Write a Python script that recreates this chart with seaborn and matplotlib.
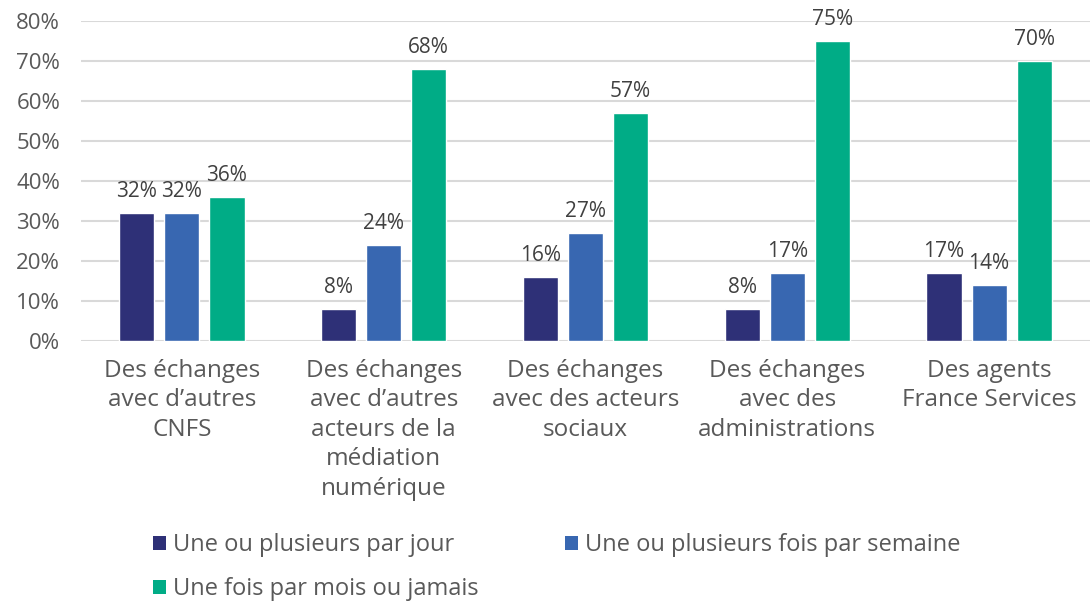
import matplotlib
matplotlib.use("Agg")
import matplotlib.pyplot as plt
import seaborn as sns
import pandas as pd
from matplotlib.patches import Patch

categories = [
    "Des échanges\navec d’autres\nCNFS",
    "Des échanges\navec d’autres\nacteurs de la\nmédiation\nnumérique",
    "Des échanges\navec des acteurs\nsociaux",
    "Des échanges\navec des\nadministrations",
    "Des agents\nFrance Services",
]
series = [
    "Une ou plusieurs par jour",
    "Une ou plusieurs fois par semaine",
    "Une fois par mois ou jamais",
]
daily = [32, 8, 16, 8, 17]
weekly = [32, 24, 27, 17, 14]
monthly = [36, 68, 57, 75, 70]
colors = ["#2E3077", "#3867B1", "#00AC86"]
yticks = [0, 10, 20, 30, 40, 50, 60, 70, 80]

rows = []
for name, vals in zip(series, [daily, weekly, monthly]):
    for cat, v in zip(categories, vals):
        rows.append({"cat": cat, "serie": name, "val": v})
df = pd.DataFrame(rows)

sns.set_style("white")
plt.rcParams["font.family"] = ["Open Sans", "DejaVu Sans"]
text_color = "#595959"

fig = plt.figure(figsize=(10.92, 6.06), dpi=100)
ax = fig.add_axes([81 / 1092, 1 - 341 / 606, (1090 - 81) / 1092, 320 / 606])

sns.barplot(data=df, x="cat", y="val", hue="serie", hue_order=series,
            palette=colors, width=0.67, gap=0.22, ax=ax, legend=False,
            saturation=1)

for container in ax.containers:
    ax.bar_label(container, labels=[f"{int(round(b.get_height()))}%" for b in container],
                 padding=8, fontsize=15, color="#404040")

ax.set_ylim(0, 80)
ax.set_xlim(-0.5, len(categories) - 0.5)
ax.set_yticks(yticks)
ax.set_yticklabels([f"{t}%" for t in yticks], fontsize=16, color=text_color)
ax.tick_params(axis="x", labelsize=17.5, labelcolor=text_color, length=0, pad=13)
ax.tick_params(axis="y", length=0, pad=15)
ax.set_xlabel("")
ax.set_ylabel("")
ax.yaxis.grid(True, color="#D9D9D9", linewidth=1.5)
ax.set_axisbelow(True)
for s in ax.spines.values():
    s.set_visible(False)
for lab in ax.get_xticklabels():
    lab.set_linespacing(1.3)

# legend filled row by row: two entries on the first line, one on the second
order = [0, 2, 1]
handles = [Patch(facecolor=colors[i], edgecolor="none") for i in order]
labels = [series[i] for i in order]
fig.legend(handles, labels, loc="upper left", bbox_to_anchor=(153 / 1092, 1 - 533 / 606),
           ncol=2, frameon=False, fontsize=17, labelcolor=text_color,
           handlelength=0.55, handleheight=0.55, handletextpad=0.3,
           columnspacing=3.65, labelspacing=0.85, borderpad=0, borderaxespad=0)

fig.savefig("out.png", dpi=100)
